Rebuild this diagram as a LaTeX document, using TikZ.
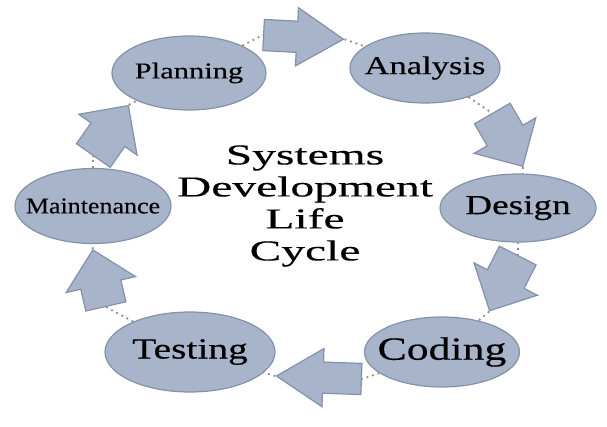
\documentclass[tikz,border=0pt]{standalone}
\usepackage{fontspec}
\setmainfont{Liberation Serif}
\newfontfamily\stagefont[FakeStretch=1.35,FakeBold=0.4]{Liberation Serif}
\newfontfamily\narrowfont[FakeStretch=1.15,FakeBold=0.4]{Liberation Serif}
\newfontfamily\titlefont[FakeStretch=1.65,FakeBold=0.4]{Liberation Serif}
\usetikzlibrary{shapes.geometric,shapes.arrows}
\definecolor{stagefill}{HTML}{A8B4CA}
\definecolor{stageline}{HTML}{8391AA}
\definecolor{linkgray}{HTML}{8C8C8C}

\begin{document}
\begin{tikzpicture}[x=0.5pt,y=-0.5pt,
  stage/.style={ellipse,fill=stagefill,draw=stageline,line width=0.6pt,inner sep=0pt},
  turn/.style={single arrow,fill=stagefill,draw=stageline,line width=0.6pt,inner xsep=0pt,anchor=tail},
  link/.style={linkgray,dotted,line width=0.9pt}]

\useasboundingbox (0,0) rectangle (607,427);

\node[stage,minimum width=77pt,minimum height=37pt] (planning) at (189,73)
  {\makebox[0pt]{\stagefont\fontsize{11.3}{13}\selectfont Planning}};
\node[stage,minimum width=75pt,minimum height=35pt] (analysis) at (425,68)
  {\makebox[0pt]{\stagefont\fontsize{12.8}{14}\selectfont Analysis}};
\node[stage,minimum width=78pt,minimum height=34pt] (design) at (518,208)
  {\makebox[0pt]{\stagefont\fontsize{13.8}{15}\selectfont Design}};
\node[stage,minimum width=77.5pt,minimum height=35pt] (coding) at (442,352)
  {\makebox[0pt]{\stagefont\fontsize{16.2}{18}\selectfont Coding}};
\node[stage,minimum width=85pt,minimum height=40pt] (testing) at (190,352)
  {\makebox[0pt]{\stagefont\fontsize{14.6}{16}\selectfont Testing}};
\node[stage,minimum width=78pt,minimum height=37.5pt] (maintenance) at (93,206)
  {\makebox[0pt]{\narrowfont\fontsize{11.3}{13}\selectfont Maintenance}};

\node[align=center,inner sep=0pt,font=\titlefont\fontsize{14.4}{16}\selectfont] (title) at (305,206)
  {Systems\\Development\\Life\\Cycle};

\foreach \n/\x/\y/\r/\len/\half/\ext/\tip in {1/263/35/-3/40/7.5/6.75/64, 2/492/113/-60/30.5/10/7.5/90,
    3/518/255/-117/31/10/7.5/90, 4/362/379/178/42.5/7.5/6.75/64, 5/106/307/103/29/10/7.5/90, 6/93/156/55/30.5/10/7.5/90}
  \node[turn,rotate=\r,minimum height=\len pt,inner ysep=\half pt,single arrow head extend=\ext pt,
    single arrow tip angle=\tip] (arrow\n) at (\x,\y) {};

\foreach \a/\n/\b in {planning/1/analysis, analysis/2/design, design/3/coding,
    coding/4/testing, testing/5/maintenance, maintenance/6/planning}{
  \draw[link] (\a) -- (arrow\n.tail);
  \draw[link] (arrow\n.tip) -- (\b);
}

\end{tikzpicture}
\end{document}
